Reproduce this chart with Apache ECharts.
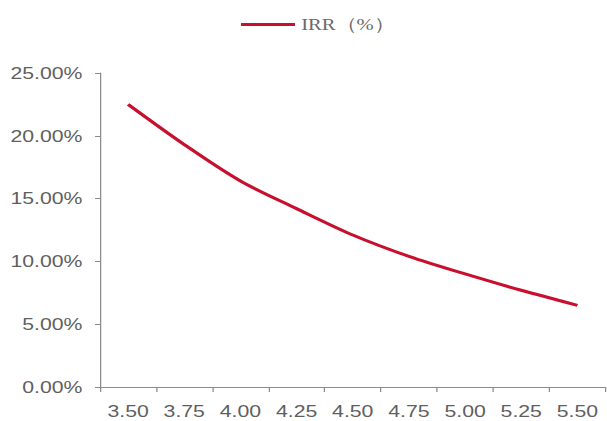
<!DOCTYPE html>
<html>
<head>
<meta charset="utf-8">
<script src="https://cdn.jsdelivr.net/npm/echarts@6/dist/echarts.min.js"></script>
<style>
  html, body { margin: 0; padding: 0; background: #fff; overflow: hidden; }
  /* The chart is laid out on a narrower canvas and widened horizontally,
     giving the broad lettering of the original figure. */
  #wrap { width: 607px; height: 421px; overflow: hidden; }
  #chart { width: 485.6px; height: 421px; transform: scaleX(1.25); transform-origin: 0 0; }
</style>
</head>
<body>
<div id="wrap"><div id="chart"></div></div>
<script>
// Price levels on the horizontal axis
const prices = ['3.50', '3.75', '4.00', '4.25', '4.50', '4.75', '5.00', '5.25', '5.50'];
// IRR at each price level, in percent
const irr = [22.5, 19.3, 16.4, 14.2, 12.1, 10.4, 9.0, 7.7, 6.5];
const seriesName = 'IRR（%）';

const axisGrey = '#8c8c8c';
const textGrey = '#5f5f5f';
const lineRed = '#C8102E';

const chart = echarts.init(document.getElementById('chart'), null, { renderer: 'svg' });
chart.setOption({
  animation: false,
  backgroundColor: '#ffffff',
  legend: {
    data: [seriesName],
    left: 187.8,
    top: 11,
    itemWidth: 43.2,
    itemHeight: 3,
    icon: 'rect',
    itemGap: 4,
    textStyle: { fontFamily: 'Liberation Serif', fontSize: 16.5, color: '#6a6a6a' }
  },
  grid: { left: 80, right: 1.6, top: 73, bottom: 34, containLabel: false },
  xAxis: {
    type: 'category',
    data: prices,
    boundaryGap: true,
    axisLine: { lineStyle: { color: axisGrey, width: 1 } },
    axisTick: { show: true, length: 5, lineStyle: { color: axisGrey } },
    axisLabel: { color: textGrey, fontFamily: 'Liberation Sans', fontSize: 17, margin: 16 },
    splitLine: { show: false }
  },
  yAxis: {
    type: 'value',
    min: 0,
    max: 25,
    interval: 5,
    axisLine: { show: true, lineStyle: { color: axisGrey, width: 1 } },
    axisTick: { show: true, length: 4, lineStyle: { color: axisGrey } },
    axisLabel: {
      color: textGrey, fontFamily: 'Liberation Sans', fontSize: 17, margin: 14,
      formatter: v => v.toFixed(2) + '%'
    },
    splitLine: { show: false }
  },
  series: [{
    name: seriesName,
    type: 'line',
    data: irr,
    smooth: 0.3,
    symbol: 'none',
    lineStyle: { color: lineRed, width: 3 },
    itemStyle: { color: lineRed }
  }]
});
</script>
</body>
</html>
